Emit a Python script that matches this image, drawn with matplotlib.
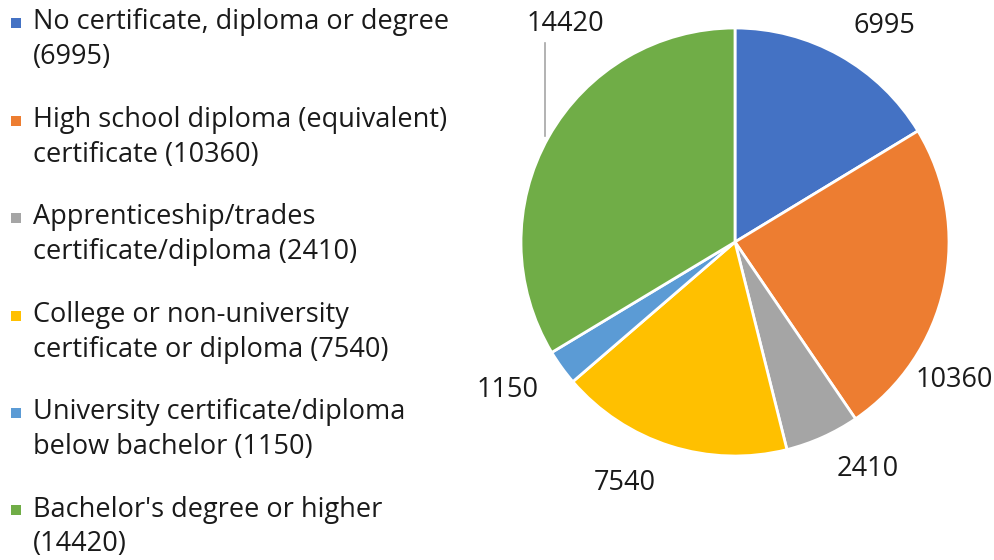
import numpy as np
import matplotlib.pyplot as plt

categories = [
    "No certificate, diploma or degree",
    "High school diploma (equivalent)\ncertificate",
    "Apprenticeship/trades\ncertificate/diploma",
    "College or non-university\ncertificate or diploma",
    "University certificate/diploma\nbelow bachelor",
    "Bachelor's degree or higher",
]
values = [6995, 10360, 2410, 7540, 1150, 14420]
colors = ["#4472C4", "#ED7D31", "#A5A5A5", "#FFC000", "#5B9BD5", "#70AD47"]

# legend text wraps like the original
legend_labels = [
    "No certificate, diploma or degree\n(6995)",
    "High school diploma (equivalent)\ncertificate (10360)",
    "Apprenticeship/trades\ncertificate/diploma (2410)",
    "College or non-university\ncertificate or diploma (7540)",
    "University certificate/diploma\nbelow bachelor (1150)",
    "Bachelor's degree or higher\n(14420)",
]

# label placement (angle in degrees, distance in radii), tuned by eye
label_angles = [55.3, -32.1, -59.7, -114.5, -146.9, 127.9]
label_dist = [1.23, 1.21, 1.23, 1.24, 1.27, 1.29]

plt.rcParams["font.family"] = ["Open Sans", "DejaVu Sans"]
text_color = "#1a1a1a"
fs = 19.5

W, H = 995, 560
fig = plt.figure(figsize=(W / 100, H / 100), dpi=100)
ax = fig.add_axes([0, 0, 1, 1])

cx, cy, r = 735, H - 242, 214
wedges, _ = ax.pie(
    values,
    colors=colors,
    startangle=90,
    counterclock=False,
    center=(cx, cy),
    radius=r,
    wedgeprops=dict(edgecolor="white", linewidth=2),
)
ax.set_xlim(0, W)
ax.set_ylim(0, H)
ax.set_aspect("equal")
ax.axis("off")

for v, a, d in zip(values, label_angles, label_dist):
    t = np.deg2rad(a)
    ax.text(cx + d * r * np.cos(t), cy + d * r * np.sin(t), str(v),
            ha="center", va="center", fontsize=fs, color=text_color)

# leader line for the biggest slice
lx = 545
ly_edge = cy + np.sqrt(r ** 2 - (lx - cx) ** 2)
ax.plot([lx, lx], [ly_edge + 8, H - 43], color="#A6A6A6", linewidth=1.2)

# legend drawn by hand so the marker sits on the first line
step, line_gap = 97.5, 35
for i, (lab, c) in enumerate(zip(legend_labels, colors)):
    base = H - (29 + i * step)
    ax.scatter([15.5], [base + 6], marker="s", s=52, color=c, linewidths=0)
    for j, line in enumerate(lab.split("\n")):
        ax.text(33, base - j * line_gap, line, ha="left", va="baseline",
                fontsize=fs, color=text_color)

fig.savefig("out.png", dpi=100)
